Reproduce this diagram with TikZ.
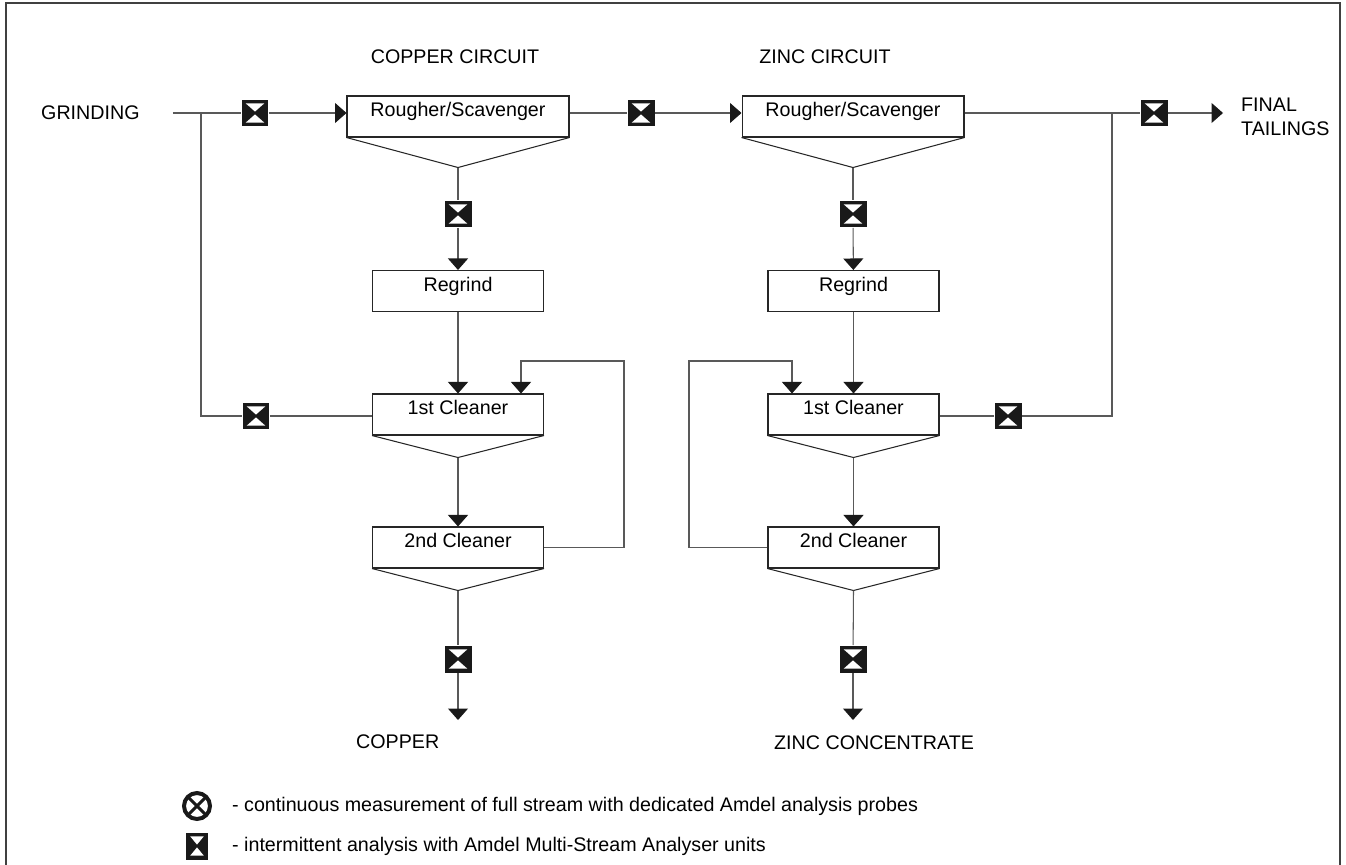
\documentclass[tikz,border=0pt]{standalone}
\usepackage{fontspec}
\setmainfont{Liberation Sans}
\usetikzlibrary{arrows.meta}

\begin{document}
\begin{tikzpicture}[x=0.02cm, y=-0.02cm,
        font=\fontsize{11.2}{13.4}\selectfont,
        cell/.style={rectangle, draw=black!85, line width=0.6pt, inner sep=0pt, minimum width=3.42cm, minimum height=0.82cm, text height=0.41cm, text depth=0.41cm},
        vee/.style={draw=black!85, line width=0.6pt},
        stream/.style={draw=black!65, line width=0.6pt},
        flow/.style={stream, -{Triangle[width=0.4cm, length=0.23cm, color=black!90]}},
        msa/.style={rectangle, fill=black!90, minimum width=0.54cm, minimum height=0.54cm, inner sep=0pt,
          path picture={
            \fill[white] ([shift={(2.4pt,-2.2pt)}]path picture bounding box.north west) -- ([shift={(-2.4pt,-2.2pt)}]path picture bounding box.north east) -- ([yshift=0.8pt]path picture bounding box.center) -- cycle;
            \fill[white] ([shift={(2.4pt,2.2pt)}]path picture bounding box.south west) -- ([shift={(-2.4pt,2.2pt)}]path picture bounding box.south east) -- ([yshift=-0.8pt]path picture bounding box.center) -- cycle;
          }},
        probe/.style={circle, draw=black!90, line width=0.08cm, minimum size=0.52cm, inner sep=0pt,
          path picture={
            \draw[black!90, line width=0.06cm] (path picture bounding box.north west) -- (path picture bounding box.south east);
            \draw[black!90, line width=0.06cm] (path picture bounding box.north east) -- (path picture bounding box.south west);
          }},
        ]
      \useasboundingbox (0,0) rectangle (1346,865);
      \draw[black!75, line width=1.1pt] (6,875) -- (6,3) -- (1340,3) -- (1340,875);

      % headings
      \node (cuhead) at (455,57) {COPPER CIRCUIT};
      \node (znhead) at (825,57) {ZINC CIRCUIT};

      % copper circuit
      \node[anchor=west] (grind) at (35,113) {GRINDING};
      \coordinate (cubr) at (201,113);
      \node[msa] (s1) at (255,113) {};
      \node[cell, minimum width=4.44cm] (cur) at (458,116.5) {Rougher/Scavenger};
      \node[msa] (s2) at (458,214) {};
      \node[cell] (curg) at (458,291) {Regrind};
      \node[cell] (cu1) at (458,414.5) {1st Cleaner};
      \node[cell] (cu2) at (458,547.5) {2nd Cleaner};
      \node[msa] (s3) at (458,659) {};
      \coordinate (cuout) at (458,720);
      \node[anchor=west] (copper) at (350,742) {COPPER};
      \node[msa] (s4) at (256,416) {};
      \coordinate (cutop) at (624,361);
      \coordinate (curec) at (521,361);

      \draw[vee] (cur.south west) -- ([yshift=-0.6cm]cur.south) coordinate (curv) -- (cur.south east);
      \draw[vee] (cu1.south west) -- ([yshift=-0.44cm]cu1.south) coordinate (cu1v) -- (cu1.south east);
      \draw[vee] (cu2.south west) -- ([yshift=-0.44cm]cu2.south) coordinate (cu2v) -- (cu2.south east);

      \draw[stream] ([xshift=0.54cm]grind.east) -- (s1);
      \draw[flow] (s1) -- (s1 -| cur.west);
      \draw[stream] (cubr) |- (s4);
      \draw[stream] (s4) -- (s4 -| cu1.west);
      \draw[stream] (curv) -- (s2);
      \draw[flow] (s2) -- (curg);
      \draw[flow] (curg) -- (cu1);
      \draw[flow] (cu1v) -- (cu2);
      \draw[stream] (cu2v) -- (s3);
      \draw[flow] (s3) -- (cuout);
      \draw[flow] (cu2.east) -| (cutop) -- (curec) -- (curec |- cu1.north);

      % zinc circuit
      \node[msa] (s5) at (641,113) {};
      \node[cell, minimum width=4.44cm] (znr) at (853,116.5) {Rougher/Scavenger};
      \node[msa] (s6) at (853,214) {};
      \node[cell] (znrg) at (853.5,291) {Regrind};
      \node[cell] (zn1) at (853.5,414.5) {1st Cleaner};
      \node[cell] (zn2) at (853.5,547.5) {2nd Cleaner};
      \node[msa] (s7) at (853,659) {};
      \coordinate (znout) at (853,720);
      \node[anchor=west] (zinc) at (768,743) {ZINC CONCENTRATE};
      \coordinate (znbr) at (1112,113);
      \node[msa] (s8) at (1154,113) {};
      \coordinate (tail) at (1223,113);
      \node[anchor=west, align=left] (tails) at (1235,117) {FINAL\\TAILINGS};
      \node[msa] (s9) at (1008,416) {};
      \coordinate (zntop) at (689,361);
      \coordinate (znrec) at (792,361);

      \draw[vee] (znr.south west) -- ([yshift=-0.6cm]znr.south) coordinate (znrv) -- (znr.south east);
      \draw[vee] (zn1.south west) -- ([yshift=-0.44cm]zn1.south) coordinate (zn1v) -- (zn1.south east);
      \draw[vee] (zn2.south west) -- ([yshift=-0.44cm]zn2.south) coordinate (zn2v) -- (zn2.south east);

      \draw[stream] (s5 -| cur.east) -- (s5);
      \draw[flow] (s5) -- (s5 -| znr.west);
      \draw[stream] (s5 -| znr.east) -- (s8);
      \draw[flow] (s8) -- (tail);
      \draw[stream] (znbr) |- (s9);
      \draw[stream] (s9) -- (s9 -| zn1.east);
      \draw[stream] (znrv) -- (s6);
      \draw[flow] (s6) -- (znrg);
      \draw[flow] (znrg) -- (zn1);
      \draw[flow] (zn1v) -- (zn2);
      \draw[stream] (zn2v) -- (s7);
      \draw[flow] (s7) -- (znout);
      \draw[flow] (zn2.west) -| (zntop) -- (znrec) -- (znrec |- zn1.north);

      % legend
      \node[probe] (lprobe) at (197,806) {};
      \node[anchor=west] (lprobetxt) at (226,806) {- continuous measurement of full stream with dedicated Amdel analysis probes};
      \node[msa, minimum width=0.44cm] (lmsa) at (197,846) {};
      \node[anchor=west] (lmsatxt) at (226,846) {- intermittent analysis with Amdel Multi-Stream Analyser units};
    \end{tikzpicture}
\end{document}
